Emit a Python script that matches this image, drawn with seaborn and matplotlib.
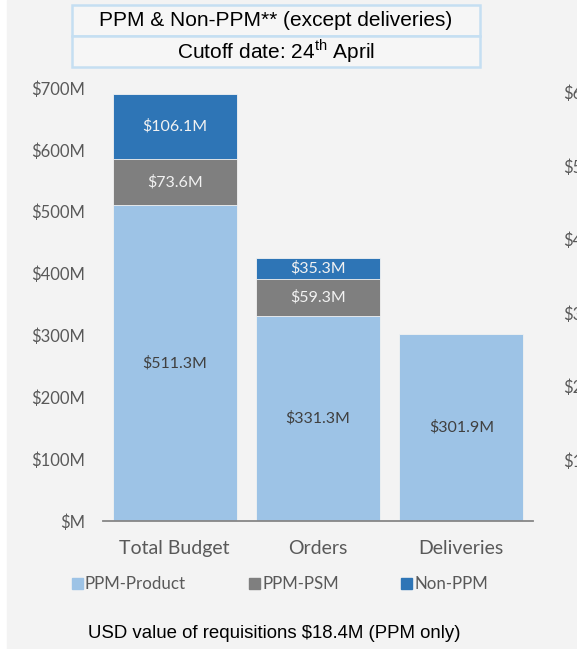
import pandas as pd
import seaborn as sns
import matplotlib.pyplot as plt
from matplotlib.patches import Rectangle

# data ($M)
categories = ['Total Budget', 'Orders', 'Deliveries']
ppm_product = [511.3, 331.3, 301.9]
ppm_psm = [73.6, 59.3, 0.0]
non_ppm = [106.1, 35.3, 0.0]
series = ['PPM-Product', 'PPM-PSM', 'Non-PPM']
colors = ['#9dc3e6', '#7f7f7f', '#2e75b6']
ytick_vals = [0, 100, 200, 300, 400, 500, 600, 700]
ytick_labels = ['$M', '$100M', '$200M', '$300M', '$400M', '$500M', '$600M', '$700M']
# axis labels of the neighbouring chart, cut off at the right edge
side_labels = ['$600M', '$500M', '$400M', '$300M', '$200M', '$100M']

sns.set_theme(style='white')
plt.rcParams['font.family'] = ['Lato', 'DejaVu Sans']
plt.rcParams['mathtext.fontset'] = 'custom'
plt.rcParams['mathtext.rm'] = 'Liberation Sans'

W, H = 577, 649
fig = plt.figure(figsize=(W / 100, H / 100), dpi=100)
fig.patch.set_facecolor('white')


def fx(x):
    return x / W


def fy(y):
    return 1 - y / H


fig.patches.append(Rectangle((fx(7), 0), 1, 1, transform=fig.transFigure,
                             color='#f3f3f3', zorder=-10))

ax = fig.add_axes([fx(103), fy(521), fx(533) - fx(103), fy(88) - fy(521)])
ax.set_facecolor('none')

df = pd.DataFrame({'Category': categories, 'PPM-Product': ppm_product,
                   'PPM-PSM': ppm_psm, 'Non-PPM': non_ppm})
df['c1'] = df['PPM-Product']
df['c2'] = df['c1'] + df['PPM-PSM']
df['c3'] = df['c2'] + df['Non-PPM']

# stacked bars drawn as cumulative totals, tallest first
for col, color in zip(['c3', 'c2', 'c1'], colors[::-1]):
    sns.barplot(data=df, x='Category', y=col, color=color, width=0.865,
                saturation=1, edgecolor='#f3f3f3', linewidth=0.6, ax=ax)

# segment labels
for i in range(len(categories)):
    bottom = 0
    for s, txtcol in zip(series, ['#404040', '#f2f2f2', '#f2f2f2']):
        v = df.loc[i, s]
        if v > 0:
            ax.text(i, bottom + v / 2, f'${v:.1f}M', ha='center', va='center',
                    fontsize=11.5, color=txtcol)
        bottom += v

ax.set_ylim(0, 700)
ax.set_xlim(-0.5, 2.5)
ax.set_yticks(ytick_vals)
ax.set_yticklabels(ytick_labels)
ax.set_xlabel('')
ax.set_ylabel('')
for sp in ['left', 'top', 'right']:
    ax.spines[sp].set_visible(False)
ax.spines['bottom'].set_color('#868686')
ax.spines['bottom'].set_linewidth(1.3)
ax.tick_params(axis='y', length=0, pad=13, labelcolor='#595959', labelsize=12)
ax.tick_params(axis='x', which='major', length=0, pad=14, labelcolor='#595959',
               labelsize=14)
ax.set_xticks([-0.5, 0.5, 1.5, 2.5], minor=True)
ax.tick_params(axis='x', which='minor', length=6, width=1.3, color='#868686',
               direction='out')

# title boxes
for y0, y1 in [(5, 36), (36, 67)]:
    fig.patches.append(Rectangle((fx(72), fy(y1)), fx(480) - fx(72), fy(y0) - fy(y1),
                                 transform=fig.transFigure, facecolor='#f6f6f6',
                                 edgecolor='#c5dff2', linewidth=1.8, zorder=1))
fig.text(fx(276), fy(21), 'PPM & Non-PPM** (except deliveries)', ha='center',
         va='center', fontsize=15, family='Liberation Sans', color='black')
fig.text(fx(276), fy(51), r'Cutoff date: 24$^{\mathrm{th}}$ April', ha='center',
         va='center', fontsize=15, family='Liberation Sans', color='black')

# legend
for x_sq, x_txt, name, color in zip([72, 249, 401], [85, 263, 415], series, colors):
    fig.patches.append(Rectangle((fx(x_sq), fy(589)), fx(11), 11 / H,
                                 transform=fig.transFigure, color=color))
    fig.text(fx(x_txt), fy(584), name, ha='left', va='center', fontsize=12.2,
             color='#595959')

fig.text(fx(274), fy(634), 'USD value of requisitions $18.4M (PPM only)',
         ha='center', va='center', fontsize=13.4, family='Liberation Sans',
         color='black')

for lab, y in zip(side_labels, [94, 168, 241, 315, 388, 462]):
    fig.text(fx(563), fy(y), lab, ha='left', va='center', fontsize=12,
             color='#595959')

plt.savefig('out.png', dpi=100)
